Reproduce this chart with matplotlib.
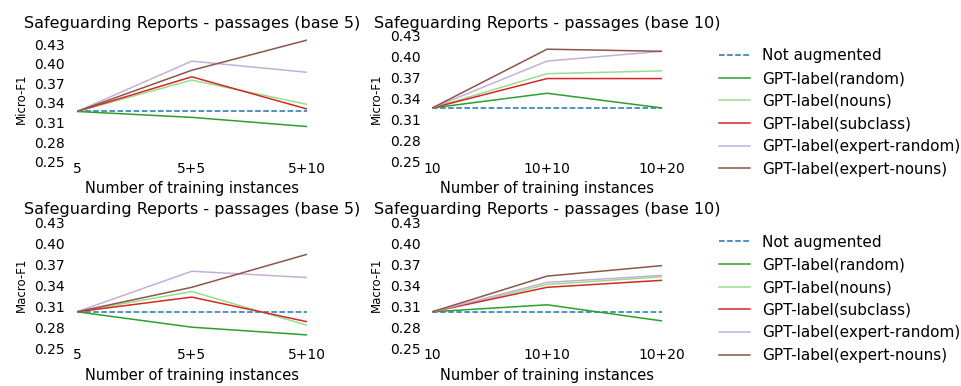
import numpy as np
import matplotlib
matplotlib.use("Agg")
import matplotlib.pyplot as plt

# x categories
x_base5 = ["5", "5+5", "5+10"]
x_base10 = ["10", "10+10", "10+20"]

series_names = ["Not augmented", "GPT-label(random)", "GPT-label(nouns)",
                "GPT-label(subclass)", "GPT-label(expert-random)",
                "GPT-label(expert-nouns)"]
colors = ["#1f77b4", "#2ca02c", "#98df8a", "#d62728", "#c5b0d5", "#8c564b"]
styles = ["--", "-", "-", "-", "-", "-"]

# Micro-F1, base 5
micro_b5_none = [0.327, 0.327, 0.327]
micro_b5_random = [0.327, 0.318, 0.304]
micro_b5_nouns = [0.327, 0.375, 0.338]
micro_b5_subclass = [0.327, 0.380, 0.331]
micro_b5_exprandom = [0.327, 0.404, 0.387]
micro_b5_expnouns = [0.327, 0.390, 0.436]

# Micro-F1, base 10
micro_b10_none = [0.327, 0.327, 0.327]
micro_b10_random = [0.327, 0.348, 0.327]
micro_b10_nouns = [0.327, 0.376, 0.380]
micro_b10_subclass = [0.327, 0.369, 0.369]
micro_b10_exprandom = [0.327, 0.394, 0.408]
micro_b10_expnouns = [0.327, 0.411, 0.408]

# Macro-F1, base 5
macro_b5_none = [0.302, 0.302, 0.302]
macro_b5_random = [0.302, 0.280, 0.269]
macro_b5_nouns = [0.302, 0.331, 0.283]
macro_b5_subclass = [0.302, 0.323, 0.288]
macro_b5_exprandom = [0.302, 0.360, 0.351]
macro_b5_expnouns = [0.302, 0.337, 0.384]

# Macro-F1, base 10
macro_b10_none = [0.302, 0.302, 0.302]
macro_b10_random = [0.302, 0.312, 0.289]
macro_b10_nouns = [0.302, 0.341, 0.352]
macro_b10_subclass = [0.302, 0.337, 0.347]
macro_b10_exprandom = [0.302, 0.344, 0.354]
macro_b10_expnouns = [0.302, 0.353, 0.368]

panels = [
    ("Safeguarding Reports - passages (base 5)", "Micro-F1", x_base5,
     [micro_b5_none, micro_b5_random, micro_b5_nouns, micro_b5_subclass,
      micro_b5_exprandom, micro_b5_expnouns]),
    ("Safeguarding Reports - passages (base 10)", "Micro-F1", x_base10,
     [micro_b10_none, micro_b10_random, micro_b10_nouns, micro_b10_subclass,
      micro_b10_exprandom, micro_b10_expnouns]),
    ("Safeguarding Reports - passages (base 5)", "Macro-F1", x_base5,
     [macro_b5_none, macro_b5_random, macro_b5_nouns, macro_b5_subclass,
      macro_b5_exprandom, macro_b5_expnouns]),
    ("Safeguarding Reports - passages (base 10)", "Macro-F1", x_base10,
     [macro_b10_none, macro_b10_random, macro_b10_nouns, macro_b10_subclass,
      macro_b10_exprandom, macro_b10_expnouns]),
]


def main():
    fig, axes = plt.subplots(2, 2, figsize=(9.62, 3.86), dpi=100)
    plt.subplots_adjust(left=0.080, right=0.688, top=0.907, bottom=0.098,
                        wspace=0.548, hspace=0.48)

    for i, (ax, (title, ylabel, xlabels, data)) in enumerate(zip(axes.flat, panels)):
        xs = np.arange(len(xlabels))
        for vals, name, c, ls in zip(data, series_names, colors, styles):
            ax.plot(xs, vals, ls, color=c, linewidth=1.1, label=name)
        ax.set_xlim(0, len(xlabels) - 1)
        ax.set_xticks(xs)
        ax.set_xticklabels(xlabels)
        # setting the ticks also stretches the view to 0.25..0.43
        ax.set_yticks(np.arange(0.25, 0.44, 0.03))
        ax.set_yticklabels(["%.2f" % t for t in np.arange(0.25, 0.44, 0.03)])
        ax.tick_params(axis="y", length=0, pad=8.5, labelsize=10)
        ax.tick_params(axis="x", length=0, pad=0, labelsize=10)
        ax.set_title(title, fontsize=11.5)
        ax.set_xlabel("Number of training instances", fontsize=10.5, labelpad=4)
        ax.set_ylabel(ylabel, fontsize=8.5, labelpad=5)
        for s in ax.spines.values():
            s.set_visible(False)
        if i % 2 == 1:
            ax.legend(loc="upper left", bbox_to_anchor=(1.19, 1.01),
                      frameon=False, fontsize=11, labelspacing=0.5)

    plt.savefig("out.png", dpi=100)


if __name__ == '__main__':
    main()
